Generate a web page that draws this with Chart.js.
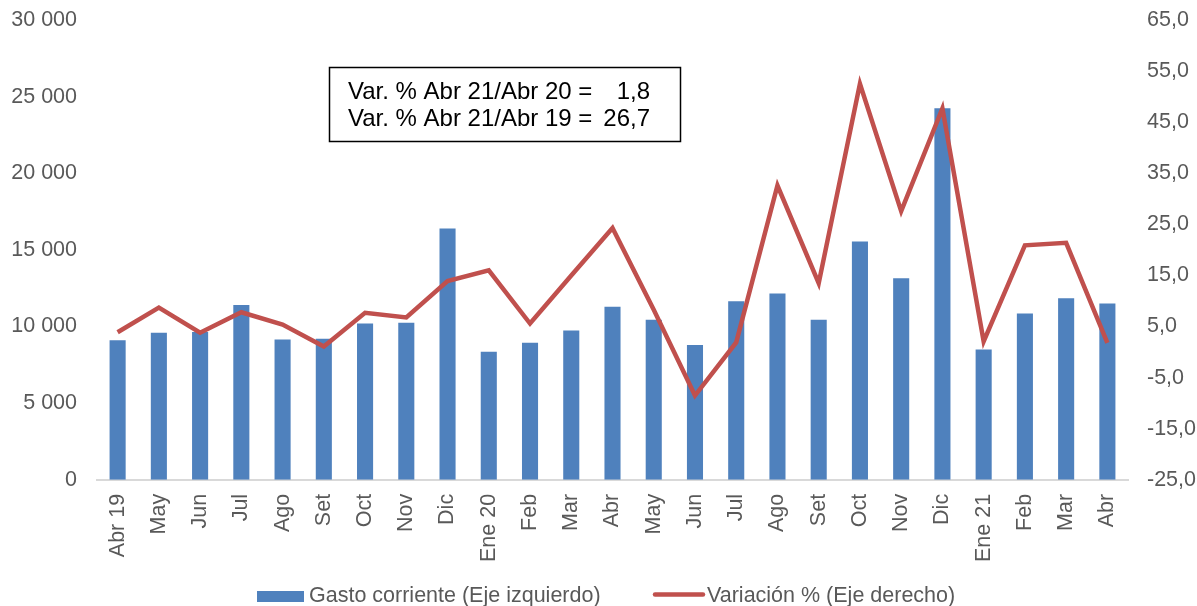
<!DOCTYPE html>
<html>
<head>
<meta charset="utf-8">
<script src="https://cdn.jsdelivr.net/npm/chart.js@4/dist/chart.umd.min.js"></script>
<style>
  html, body { margin: 0; padding: 0; background: #fff; }
  #wrap { width: 1197px; height: 606px; position: relative; }
</style>
</head>
<body>
<div id="wrap"><canvas id="c" width="1197" height="606"></canvas></div>
<script>
const categories = ["Abr 19","May","Jun","Jul","Ago","Set","Oct","Nov","Dic","Ene 20","Feb","Mar","Abr","May","Jun","Jul","Ago","Set","Oct","Nov","Dic","Ene 21","Feb","Mar","Abr"];
const gastoCorriente = [9100, 9600, 9650, 11400, 9150, 9200, 10200, 10250, 16400, 8350, 8950, 9750, 11300, 10450, 8800, 11650, 12150, 10450, 15550, 13150, 24250, 8500, 10850, 11850, 11500];
const variacion = [3.9, 8.7, 3.8, 7.8, 5.4, 1.1, 7.7, 6.8, 13.9, 16.0, 5.6, 15.0, 24.3, 8.3, -8.5, 1.9, 32.6, 13.5, 52.5, 27.6, 47.7, 2.1, 20.9, 21.4, 1.8];
const seriesNames = ["Gasto corriente (Eje izquierdo)", "Variación % (Eje derecho)"];
const boxLines = [["Var. % Abr 21/Abr 20 =", "1,8"], ["Var. % Abr 21/Abr 19 =", "26,7"]];

const FONT = "'Liberation Sans', Arial, sans-serif";
const BLUE = "#4F81BD";
const RED = "#C0504D";
const GRAY = "#595959";

const extras = {
  id: "extras",
  afterDraw(chart) {
    const ctx = chart.ctx;
    ctx.save();
    // annotation box
    ctx.strokeStyle = "#000";
    ctx.lineWidth = 1.5;
    ctx.strokeRect(329.5, 67.5, 351, 74);
    ctx.fillStyle = "#000";
    ctx.font = "24px " + FONT;
    ctx.textBaseline = "alphabetic";
    boxLines.forEach((ln, i) => {
      const y = 99 + i * 26.5;
      ctx.textAlign = "left";
      ctx.fillText(ln[0], 348, y);
      ctx.textAlign = "right";
      ctx.fillText(ln[1], 650, y);
    });
    // legend
    ctx.font = "21.5px " + FONT;
    ctx.textAlign = "left";
    ctx.textBaseline = "middle";
    ctx.fillStyle = BLUE;
    ctx.fillRect(257, 591, 47, 11);
    ctx.fillStyle = GRAY;
    ctx.fillText(seriesNames[0], 309, 596);
    ctx.strokeStyle = RED;
    ctx.lineWidth = 4.5;
    ctx.lineCap = "round";
    ctx.beginPath();
    ctx.moveTo(655, 594.5);
    ctx.lineTo(703, 594.5);
    ctx.stroke();
    ctx.fillStyle = GRAY;
    ctx.fillText(seriesNames[1], 707, 596);
    ctx.restore();
  }
};

new Chart(document.getElementById("c"), {
  type: "bar",
  data: {
    labels: categories,
    datasets: [
      {
        type: "line",
        label: seriesNames[1],
        data: variacion,
        yAxisID: "y1",
        borderColor: RED,
        backgroundColor: RED,
        borderWidth: 4.5,
        pointRadius: 0,
        tension: 0,
        order: 0
      },
      {
        type: "bar",
        label: seriesNames[0],
        data: gastoCorriente,
        yAxisID: "y",
        backgroundColor: BLUE,
        barPercentage: 0.39,
        categoryPercentage: 1,
        order: 1
      }
    ]
  },
  options: {
    responsive: false,
    animation: false,
    devicePixelRatio: 1,
    layout: { padding: { top: 20, left: 12, right: 1, bottom: 30 } },
    plugins: { legend: { display: false }, tooltip: { enabled: false } },
    scales: {
      x: {
        grid: { display: false, drawTicks: false },
        border: { display: true, color: "#d9d9d9", width: 2 },
        ticks: {
          color: GRAY, font: { family: FONT, size: 21.5 },
          maxRotation: 90, minRotation: 90, autoSkip: false, padding: 14
        }
      },
      y: {
        position: "left",
        min: 0, max: 30000,
        grid: { display: false, drawTicks: false },
        border: { display: false },
        afterFit: s => { s.width = 85; s.paddingTop = 0; s.paddingBottom = 0; },
        ticks: {
          stepSize: 5000, color: GRAY, font: { family: FONT, size: 21.5 }, padding: 20,
          callback: v => String(v).replace(/\B(?=(\d{3})+(?!\d))/g, " ")
        }
      },
      y1: {
        position: "right",
        min: -25, max: 65,
        grid: { display: false, drawTicks: false },
        border: { display: false },
        afterFit: s => { s.width = 68; s.paddingTop = 0; s.paddingBottom = 0; },
        ticks: {
          stepSize: 10, color: GRAY, font: { family: FONT, size: 21.5 }, padding: 19,
          callback: v => v.toFixed(1).replace(".", ",")
        }
      }
    }
  },
  plugins: [extras]
});
</script>
</body>
</html>
